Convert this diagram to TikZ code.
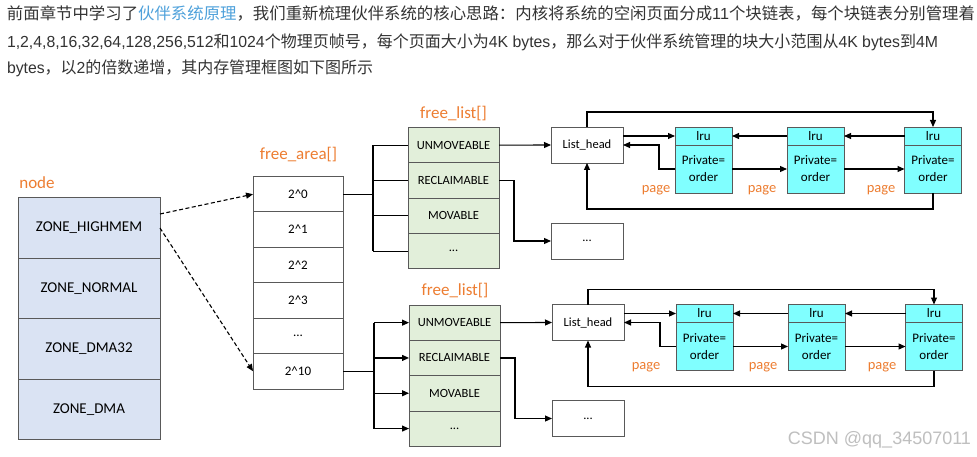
\documentclass[tikz,border=0pt]{standalone}
\usepackage{fontspec}
\setmainfont{Carlito}
\newfontfamily\cjk{Noto Sans CJK SC}
\newfontfamily\latn{Liberation Sans}
\usetikzlibrary{arrows.meta,calc}
\definecolor{txt}{HTML}{333333}
\definecolor{linkc}{HTML}{4EA1DB}
\definecolor{orng}{HTML}{ED7D31}
\definecolor{zonefill}{HTML}{DAE3F3}
\definecolor{listfill}{HTML}{E2EFDA}
\definecolor{lrufill}{HTML}{80FFFF}
\definecolor{edge}{HTML}{595959}
\newcommand\Lseg[1]{{\latn\fontsize{16}{20}\selectfont #1}}
\newcommand\buddygroup[4]{%
\begin{scope}[shift={(#2)}]
  \node[listcell] (#1fl1) at (453.5,145.15) {UNMOVEABLE};
  \node[listcell] (#1fl2) at (453.5,180.45) {RECLAIMABLE};
  \node[listcell] (#1fl3) at (453.5,215.75) {MOVABLE};
  \node[listcell] (#1fl4) at (453.5,251.05) {...};
  \node[plainbox] (#1lh) at (587,145) {List\_head};
  \node[plainbox] (#1dots) at (587,241) {...};
  \node[lruhead] (#1l1h) at (703.5,136) {lru};
  \node[lrubody] (#1l1b) at (703.5,169) {Private=\\order};
  \node[lruhead] (#1l2h) at (815.5,136) {lru};
  \node[lrubody] (#1l2b) at (815.5,169) {Private=\\order};
  \node[lruhead] (#1l3h) at (933,136) {lru};
  \node[lrubody] (#1l3b) at (933,169) {Private=\\order};
  \coordinate (#1bus) at (373,145);
\end{scope}
\draw[line] (#3.east) -- (#3.east -| #1bus);
\draw[line] (#1bus |- #1fl1.west) -- (#1bus |- #1fl4.west);
\foreach \k in {1,2,3,4} {\draw[#4] (#1bus |- #1fl\k.west) -- (#1fl\k.west);}
\draw[arr] (#1fl1.east) -- (#1lh.west);
\draw[arr] (#1fl2.east) -- ++(15,0) |- (#1dots.west);
\draw[arr] (#1lh.east |- #1l1h.west) -- (#1l1h.west);
\draw[arr] (#1l1b.west) -- ++(-16,0) |- (#1lh.east);
\draw[arr] (#1l2h.west) -- (#1l1h.east);
\draw[arr] (#1l3h.west) -- (#1l2h.east);
\draw[arr] (#1l1b.east) -- (#1l2b.west);
\draw[arr] (#1l2b.east) -- (#1l3b.west);
\draw[arr] (#1lh.north) -- ++(0,-15) -| (#1l3h.north);
\draw[arr] (#1l3b.south) -- ++(0,16) -| (#1lh.south);
}
\begin{document}
\begin{tikzpicture}[x=1pt,y=-1pt,
  every node/.style={inner sep=0pt, outer sep=0pt},
  zonecell/.style={draw=edge, line width=0.8pt, fill=zonefill, minimum width=142pt, minimum height=60.5pt, font=\fontsize{15}{18}\selectfont},
  areacell/.style={draw=edge, line width=0.8pt, fill=white, minimum width=90pt, minimum height=35.4pt, font=\fontsize{13}{16}\selectfont},
  listcell/.style={draw=edge, line width=0.8pt, fill=listfill, minimum width=91pt, minimum height=35.3pt, font=\fontsize{12.5}{15}\selectfont},
  plainbox/.style={draw=edge, line width=0.8pt, fill=white, minimum width=72pt, minimum height=36pt, font=\fontsize{12.5}{15}\selectfont},
  lruhead/.style={draw=edge, line width=0.8pt, fill=lrufill, minimum width=57pt, minimum height=18pt, font=\fontsize{13}{15}\selectfont},
  lrubody/.style={draw=edge, line width=0.8pt, fill=lrufill, minimum width=57pt, minimum height=48pt, align=center, font=\fontsize{13}{17}\selectfont},
  lbl/.style={text=orng, font=\fontsize{17}{20}\selectfont},
  pagelbl/.style={text=orng, font=\fontsize{14.5}{17}\selectfont},
  line/.style={draw=black, line width=1.1pt},
  arr/.style={line, -{Triangle[length=7pt,width=6pt]}},
  darr/.style={line, dash pattern=on 4pt off 2.5pt, -{Triangle[length=7pt,width=6pt]}},
  para/.style={anchor=base west, text=txt, font=\cjk\fontsize{16.2}{20}\selectfont}
]
\fill[white] (0,0) rectangle (977,457);
\useasboundingbox (0,0) rectangle (977,457);

% intro text
\node[para] (p1) at (7,20) {\resizebox{968pt}{\height}{前面章节中学习了{\color{linkc}伙伴系统原理}，我们重新梳理伙伴系统的核心思路：内核将系统的空闲页面分成\Lseg{11}个块链表，每个块链表分别管理着}};
\node[para] (p2) at (7,48) {\resizebox{931pt}{\height}{\Lseg{1,2,4,8,16,32,64,128,256,512}和\Lseg{1024}个物理页帧号，每个页面大小为\Lseg{4K bytes}，那么对于伙伴系统管理的块大小范围从\Lseg{4K bytes}到\Lseg{4M}}};
\node[para] (p3) at (7,74) {\resizebox{366pt}{\height}{\Lseg{bytes}，以\Lseg{2}的倍数递增，其内存管理框图如下图所示}};

% node / zones
\node[lbl] (nodelbl) at (37,183) {node};
\node[zonecell] (z1) at (89,228) {ZONE\_HIGHMEM};
\node[zonecell] (z2) at (89,288.5) {ZONE\_NORMAL};
\node[zonecell] (z3) at (89,349) {ZONE\_DMA32};
\node[zonecell] (z4) at (89,409.5) {ZONE\_DMA};

% free_area
\node[lbl] (falbl) at (298.5,155) {free\_area[]};
\node[areacell] (fa0) at (298,194.2) {2\textasciicircum 0};
\node[areacell] (fa1) at (298,229.6) {2\textasciicircum 1};
\node[areacell] (fa2) at (298,265) {2\textasciicircum 2};
\node[areacell] (fa3) at (298,300.4) {2\textasciicircum 3};
\node[areacell] (fa4) at (298,335.8) {...};
\node[areacell] (fa5) at (298,371.2) {2\textasciicircum 10};

\draw[darr] ([yshift=14pt]z1.east) -- (fa0.west);
\draw[darr] (z1.east) -- (fa5.west);

% free_list groups
\node[lbl] (fl1lbl) at (453.5,114) {free\_list[]};
\node[lbl] (fl2lbl) at (455,291) {free\_list[]};
\buddygroup{t}{0,0}{fa0}{line}
\buddygroup{b}{1,177.5}{fa5}{arr}

\node[pagelbl] (tp1) at (656,190) {page};
\node[pagelbl] (tp2) at (762,190) {page};
\node[pagelbl] (tp3) at (881,190) {page};
\node[pagelbl] (bp1) at (646,367) {page};
\node[pagelbl] (bp2) at (763,367) {page};
\node[pagelbl] (bp3) at (882,367) {page};

\node[text=black!25, font=\latn\fontsize{18}{20}\selectfont] (wm) at (879.5,440) {CSDN @qq\_34507011};
\end{tikzpicture}
\end{document}
